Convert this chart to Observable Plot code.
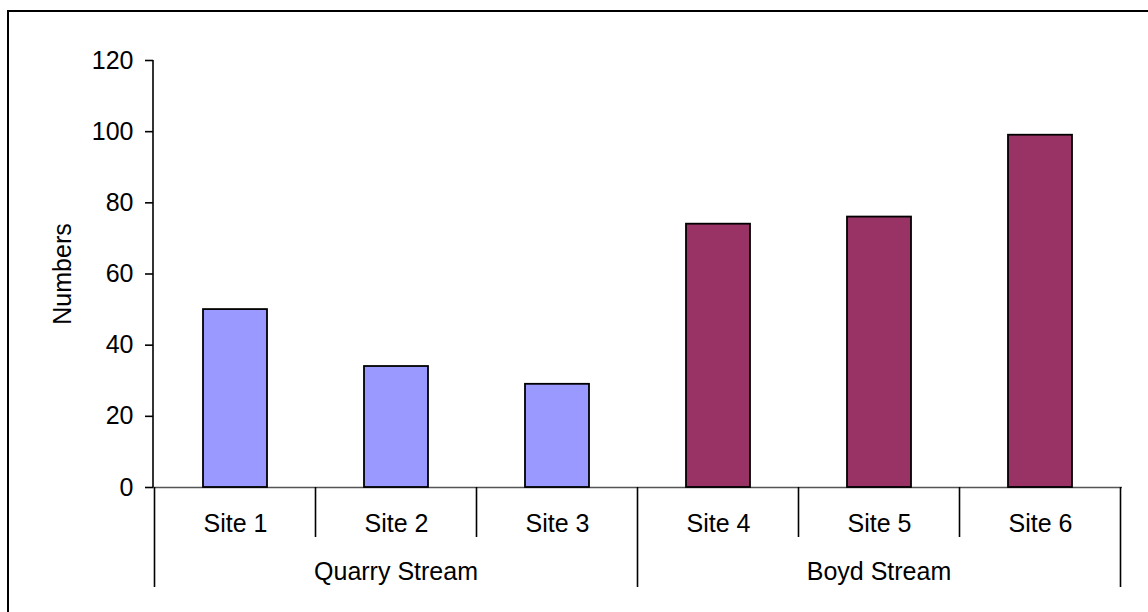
<!DOCTYPE html>
<html>
<head>
<meta charset="utf-8">
<script src="https://cdn.jsdelivr.net/npm/d3@7"></script>
<script src="https://cdn.jsdelivr.net/npm/@observablehq/plot@0.6"></script>
<style>
  html, body { margin: 0; padding: 0; background: #fff; overflow: hidden; }
  #chart svg { display: block; }
</style>
</head>
<body>
<div id="chart"></div>
<script>
// Sampling sites, the stream each belongs to, and the count recorded at each
const sites = ["Site 1", "Site 2", "Site 3", "Site 4", "Site 5", "Site 6"];
const streams = ["Quarry Stream", "Quarry Stream", "Quarry Stream", "Boyd Stream", "Boyd Stream", "Boyd Stream"];
const counts = [50, 34, 29, 74, 76, 99];
const yTicks = [0, 20, 40, 60, 80, 100, 120];
const streamNames = ["Quarry Stream", "Boyd Stream"];
const streamColors = ["#9999ff", "#993366"];

const rows = sites.map((site, i) => ({site, stream: streams[i], value: counts[i]}));

const FONT = "'Liberation Sans', Arial, Helvetica, sans-serif";

// Two-level category axis (sites, then streams) plus the chart frame
function categoryAxis(index, scales, values, dims) {
  const {width, height, marginLeft} = dims;
  const x = scales.x, y = scales.y;
  const step = x(sites[1]) - x(sites[0]);
  const bw = typeof x.bandwidth === "function" ? x.bandwidth() : x.bandwidth;
  const left = i => x(sites[i]) - (step - bw) / 2;   // left edge of a category slot
  const edge = i => (i < sites.length ? left(i) : left(sites.length - 1) + step);
  const y0 = y(0);
  const g = d3.create("svg:g");

  // outer chart border (top and left edges fall inside the page)
  g.append("rect")
    .attr("x", 8).attr("y", 11)
    .attr("width", width + 40).attr("height", height + 40)
    .attr("fill", "none").attr("stroke", "#000").attr("stroke-width", 2);

  // value axis line
  g.append("line")
    .attr("x1", marginLeft).attr("x2", marginLeft)
    .attr("y1", y(yTicks[yTicks.length - 1])).attr("y2", y0)
    .attr("stroke", "#000").attr("stroke-width", 1.6);

  // slot dividers: short between sites, long between streams
  for (let i = 0; i <= sites.length; i++) {
    const groupEdge = i === 0 || i === sites.length || streams[i] !== streams[i - 1];
    g.append("line")
      .attr("x1", edge(i)).attr("x2", edge(i))
      .attr("y1", y0).attr("y2", y0 + (groupEdge ? 100 : 50))
      .attr("stroke", "#000").attr("stroke-width", 1.6);
  }

  // stream labels centred under their sites
  streamNames.forEach(name => {
    const idx = sites.map((s, i) => i).filter(i => streams[i] === name);
    const a = edge(idx[0]), b = edge(idx[idx.length - 1] + 1);
    g.append("text")
      .attr("x", (a + b) / 2).attr("y", y0 + 93)
      .attr("text-anchor", "middle")
      .attr("font-family", FONT).attr("font-size", 25).attr("fill", "#000")
      .text(name);
  });
  return g.node();
}

const chart = Plot.plot({
  width: 1148,
  height: 612,
  marginLeft: 153,
  marginRight: 26,
  marginTop: 60,
  marginBottom: 125,
  style: {fontFamily: FONT, fontSize: "25px", color: "#000", background: "#fff"},
  x: {domain: sites, paddingInner: 0.6, paddingOuter: 0.3, axis: null},
  y: {domain: [0, 120], axis: null},
  color: {domain: streamNames, range: streamColors},
  marks: [
    Plot.ruleY([0], {stroke: "#555", strokeWidth: 1.5}),
    Plot.barY(rows, {x: "site", y: "value", fill: "stream", stroke: "#000", strokeWidth: 1.8}),
    Plot.axisY({ticks: yTicks, tickSize: 8, tickPadding: 12, tickFormat: d => String(d), label: null, stroke: "#000", strokeWidth: 1.6, fontSize: 25}),
    Plot.text(rows, {x: "site", text: "site", frameAnchor: "bottom", dy: 36, lineAnchor: "middle", fontSize: 25, fill: "#000"}),
    Plot.text(["Numbers"], {frameAnchor: "left", dx: -91, rotate: -90, textAnchor: "middle", lineAnchor: "middle", fontSize: 25, fill: "#000"}),
    categoryAxis
  ]
});

document.getElementById("chart").append(chart);
</script>
</body>
</html>
